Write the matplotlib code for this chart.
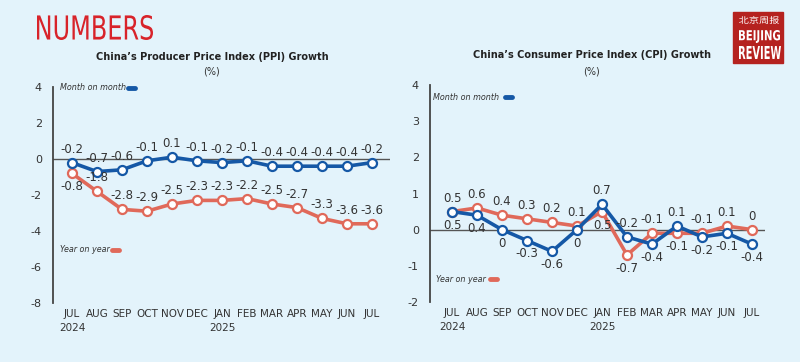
import matplotlib.pyplot as plt
from matplotlib.patches import Rectangle, PathPatch
from matplotlib.textpath import TextPath
from matplotlib.font_manager import FontProperties
from matplotlib.transforms import Affine2D
import numpy as np

# Data
months = ['JUL\n2024', 'AUG', 'SEP', 'OCT', 'NOV', 'DEC', 'JAN\n2025',
          'FEB', 'MAR', 'APR', 'MAY', 'JUN', 'JUL']
ppi_mom = [-0.2, -0.7, -0.6, -0.1, 0.1, -0.1, -0.2, -0.1, -0.4, -0.4, -0.4, -0.4, -0.2]
ppi_yoy = [-0.8, -1.8, -2.8, -2.9, -2.5, -2.3, -2.3, -2.2, -2.5, -2.7, -3.3, -3.6, -3.6]
cpi_mom = [0.5, 0.4, 0, -0.3, -0.6, 0, 0.7, -0.2, -0.4, 0.1, -0.2, -0.1, -0.4]
cpi_yoy = [0.5, 0.6, 0.4, 0.3, 0.2, 0.1, 0.5, -0.7, -0.1, -0.1, -0.1, 0.1, 0]

BG = '#E3F3FB'
BLUE = '#1558A6'
RED = '#E0695A'
DARK = '#333333'

W, H = 800, 362
fig = plt.figure(figsize=(8, 3.62), dpi=100, facecolor=BG)
px = Affine2D().scale(1 / W, 1 / H) + fig.transFigure


def px_axes(x0, y0, x1, y1):
    # pixel box -> figure fraction (y from top)
    return fig.add_axes([x0 / W, 1 - y1 / H, (x1 - x0) / W, (y1 - y0) / H])


def fit_text(s, x0, y0, x1, y1, color, prop):
    # squeeze a text path into a pixel box (y from top), for condensed lettering
    tp = TextPath((0, 0), s, size=20, prop=prop)
    ext = tp.get_extents()
    sx = (x1 - x0) / ext.width
    sy = (y1 - y0) / ext.height
    tr = Affine2D().translate(-ext.x0, -ext.y0).scale(sx, sy).translate(x0, H - y1)
    fig.add_artist(PathPatch(tr.transform_path(tp), color=color, lw=0, transform=px))


def fmt(v):
    return '0' if v == 0 else ('%g' % v)


def style(ax, ylim, yticks, xlim):
    ax.set_facecolor(BG)
    ax.set_xlim(*xlim)
    ax.set_ylim(*ylim)
    for s in ['top', 'right', 'bottom']:
        ax.spines[s].set_visible(False)
    ax.spines['left'].set_color('#444444')
    ax.spines['left'].set_linewidth(1.3)
    ax.set_yticks(yticks)
    ax.set_yticklabels([str(t) for t in yticks], fontsize=8, color=DARK)
    ax.tick_params(axis='y', length=0, pad=8)
    ax.set_xticks(np.arange(len(months)))
    ax.set_xticklabels(months, fontsize=7.5, color=DARK, linespacing=1.6)
    ax.tick_params(axis='x', length=0, pad=4)
    ax.axhline(0, color='#555555', lw=1, zorder=1)


def draw_line(ax, vals, color):
    ax.plot(np.arange(len(vals)), vals, color=color, lw=2.6, marker='o', ms=6.5,
            mfc='white', mec=color, mew=1.6, zorder=3)


def label(ax, v, i, y, up):
    ax.annotate(fmt(v), (i, y), xytext=(0, 5 if up else -5), textcoords='offset points',
                ha='center', va='bottom' if up else 'top', fontsize=8.5, color=DARK)


# Left chart: PPI
ax1 = px_axes(53, 87, 390, 303)
style(ax1, (-8, 4), [4, 2, 0, -2, -4, -6, -8], (-0.76, 12.72))
draw_line(ax1, ppi_yoy, RED)
draw_line(ax1, ppi_mom, BLUE)
for i, v in enumerate(ppi_mom):
    label(ax1, v, i, v, True)
for i, v in enumerate(ppi_yoy):
    label(ax1, v, i, v, i != 0)

# Right chart: CPI
ax2 = px_axes(430, 85, 765, 302)
style(ax2, (-2, 4), [4, 3, 2, 1, 0, -1, -2], (-0.88, 12.52))
draw_line(ax2, cpi_yoy, RED)
draw_line(ax2, cpi_mom, BLUE)
for i in range(len(months)):
    m, y = cpi_mom[i], cpi_yoy[i]
    up, dn = (m, y) if m > y else (y, m)
    label(ax2, up, i, max(m, y), True)
    label(ax2, dn, i, min(m, y), False)

# Titles
fig.text(212 / W, 1 - 57 / H, 'China\u2019s Producer Price Index (PPI) Growth',
         ha='center', va='center', fontsize=7, fontweight='bold', color='#222222')
fig.text(212 / W, 1 - 72 / H, '(%)', ha='center', va='center', fontsize=7, color=DARK)
fig.text(592 / W, 1 - 55 / H, 'China\u2019s Consumer Price Index (CPI) Growth',
         ha='center', va='center', fontsize=7, fontweight='bold', color='#222222')
fig.text(592 / W, 1 - 72 / H, '(%)', ha='center', va='center', fontsize=7, color=DARK)


# Legends
def legend_item(xp, yp, text, color, lx0, lx1):
    fig.text(xp / W, 1 - yp / H, text, ha='left', va='center', fontsize=5.8,
             style='italic', color='#333333')
    fig.add_artist(plt.Line2D([lx0 / W, lx1 / W], [1 - yp / H, 1 - yp / H],
                              color=color, lw=3.5, solid_capstyle='round'))


legend_item(60, 88, 'Month on month', BLUE, 128, 135)
legend_item(60, 250, 'Year on year', RED, 112, 119)
legend_item(433, 97, 'Month on month', BLUE, 505, 512)
legend_item(436, 279, 'Year on year', RED, 490, 497)

# Header
fit_text('NUMBERS', 37, 15, 153, 40, '#D8232A', FontProperties(family='DejaVu Sans'))

# Logo
fig.add_artist(Rectangle((733, H - 63), 50, 51, transform=px, color='#B5221F'))
fit_text('北京周报', 739, 16, 779, 24, 'white', FontProperties(family='Noto Sans CJK SC'))
bold = FontProperties(family='DejaVu Sans', weight='bold')
fit_text('BEIJING', 739, 30, 780, 43, 'white', bold)
fit_text('REVIEW', 739, 46, 781, 59, 'white', bold)

fig.savefig('out.png', dpi=100, facecolor=BG)
